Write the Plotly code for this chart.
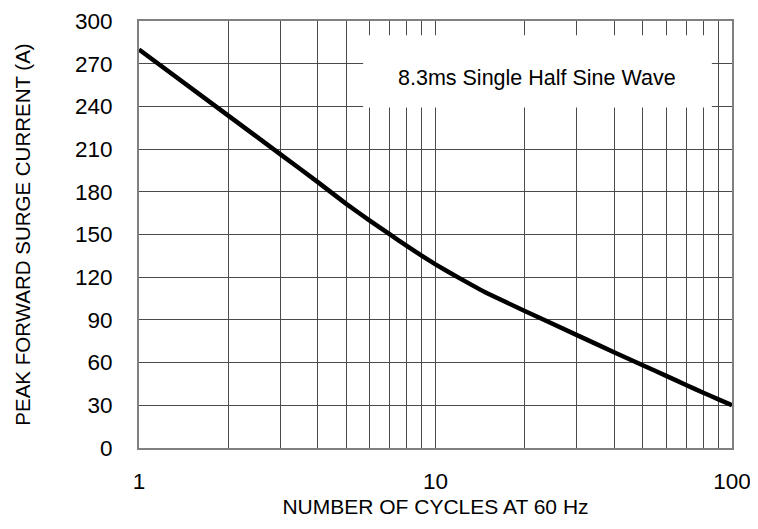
import plotly.graph_objects as go

cycles = [1, 2, 3, 4, 5, 6, 7, 8, 9, 10, 12, 15, 20, 30, 40, 50, 60, 70, 80, 90, 100]
current = [280, 233.5, 206.3, 187, 171.5, 159.8, 150.2, 142, 135, 129, 119.5, 108.5, 96.3, 79.3, 67.3, 58.1, 50.7, 44.3, 38.8, 34.2, 30]

x_tickvals = [1, 2, 3, 4, 5, 6, 7, 8, 9, 10, 20, 30, 40, 50, 60, 70, 80, 90, 100]
x_ticktext = ["1", "", "", "", "", "", "", "", "", "10", "", "", "", "", "", "", "", "", "100"]
y_tickvals = [0, 30, 60, 90, 120, 150, 180, 210, 240, 270, 300]

FONT = "Arial, Liberation Sans, sans-serif"

fig = go.Figure()
fig.add_trace(go.Scatter(
    x=cycles, y=current, mode="lines",
    line=dict(color="black", width=4.5, shape="spline", smoothing=0.3),
    showlegend=False, hoverinfo="skip",
))

fig.add_shape(type="rect", xref="paper", yref="y", x0=0.378, x1=0.966, y0=239.3, y1=290,
              fillcolor="white", line=dict(width=0), layer="above")
fig.add_annotation(xref="paper", yref="y", x=0.672, y=260, xanchor="center", yanchor="middle",
                   text="8.3ms Single Half Sine Wave",
                   showarrow=False, font=dict(family=FONT, size=21.5, color="black"))

fig.update_layout(
    width=750, height=521,
    margin=dict(l=131, r=26, t=13, b=81),
    paper_bgcolor="white", plot_bgcolor="white",
    font=dict(family=FONT, color="black"),
    xaxis=dict(
        type="log", range=[0, 2], automargin=False,
        tickvals=x_tickvals, ticktext=x_ticktext,
        showgrid=True, gridcolor="#4a4a4a", gridwidth=1,
        showline=True, linecolor="#808080", linewidth=2, mirror=True,
        ticks="", tickfont=dict(size=22.5, family=FONT),
        ticklabelstandoff=12,
        zeroline=False,
        title=dict(text="NUMBER OF CYCLES AT 60 Hz", font=dict(size=21, family=FONT), standoff=6),
    ),
    yaxis=dict(
        range=[0, 300], automargin=False, tickvals=y_tickvals,
        showgrid=True, gridcolor="#4a4a4a", gridwidth=1,
        showline=True, linecolor="#808080", linewidth=2, mirror=True,
        ticks="", tickfont=dict(size=22.5, family=FONT),
        ticklabelstandoff=20,
        zeroline=False,
        title=dict(text="PEAK FORWARD SURGE CURRENT (A)", font=dict(size=20.5, family=FONT), standoff=39),
    ),
)

fig.write_html("out.html")
